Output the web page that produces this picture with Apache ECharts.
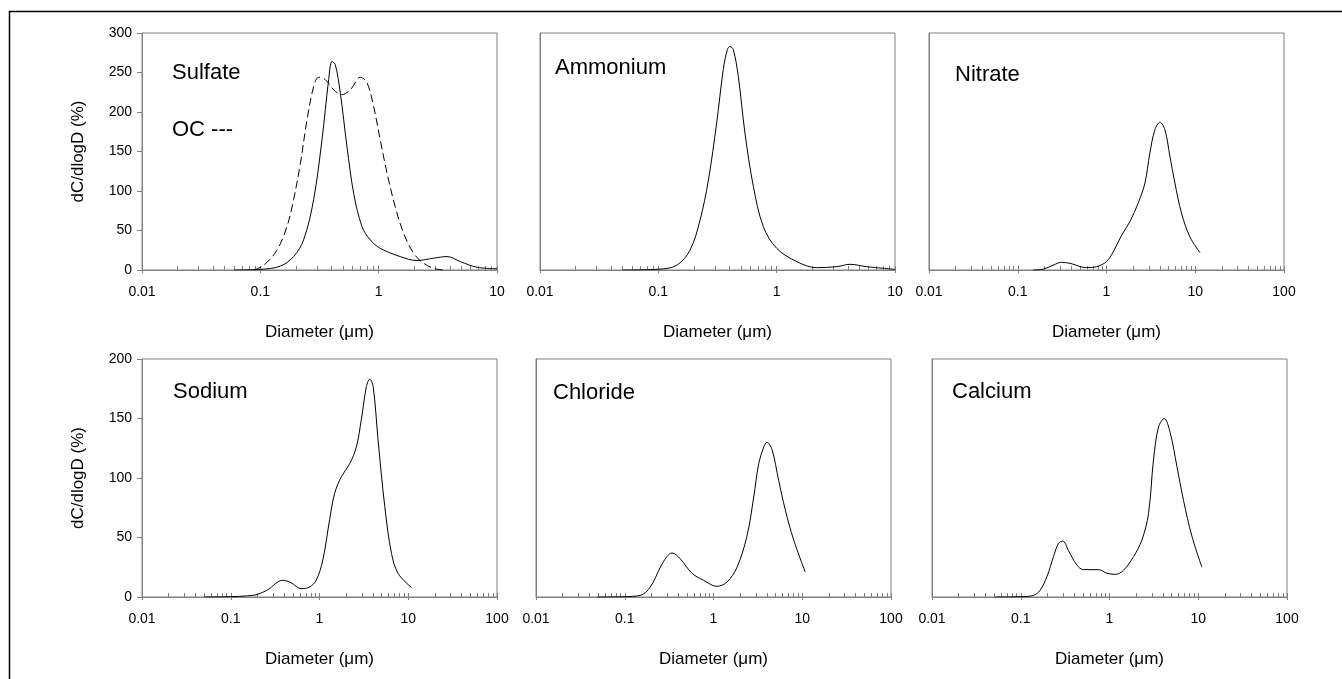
<!DOCTYPE html>
<html>
<head>
<meta charset="utf-8">
<script src="https://cdn.jsdelivr.net/npm/echarts@6/dist/echarts.min.js"></script>
<style>
  html, body { margin: 0; padding: 0; background: #fff; }
  #chart { width: 1342px; height: 679px; }
</style>
</head>
<body>
<div id="chart"></div>
<script>
// size distributions: diameter (um) and dC/dlogD (%)
const sulfateD = [0.06, 0.1, 0.148, 0.191, 0.232, 0.282, 0.332, 0.378, 0.403, 0.43, 0.474, 0.54, 0.615, 0.723, 0.85, 1.03, 1.52, 2.11, 2.92, 3.78, 4.9, 6.78, 10];
const sulfateV = [0, 0.8, 5, 17, 38, 89, 165, 241, 264, 260, 224, 156, 97, 55, 38, 27.5, 17, 12, 15, 17, 10.6, 3.4, 1.7];

const ocD = [0.088, 0.107, 0.138, 0.168, 0.191, 0.218, 0.248, 0.282, 0.311, 0.354, 0.417, 0.49, 0.576, 0.7, 0.797, 0.907, 1.03, 1.18, 1.38, 1.63, 1.98, 2.4, 3.1, 3.78];
const ocV = [0, 6, 25, 55, 89, 135, 190, 232, 244, 241, 228, 222, 228, 244, 237, 207, 165, 122, 80, 46, 21, 8.5, 1, 0];

const ammoniumD = [0.05, 0.1, 0.143, 0.185, 0.225, 0.265, 0.311, 0.354, 0.383, 0.403, 0.43, 0.474, 0.54, 0.635, 0.771, 1.0, 1.48, 2.18, 3.21, 4.17, 5.76, 10];
const ammoniumV = [0, 1, 6, 25, 63, 114, 186, 254, 279, 283, 279, 245, 173, 106, 55, 27.5, 10.6, 3, 4.2, 7.2, 4.2, 0.8];

const nitrateD = [0.149, 0.193, 0.25, 0.311, 0.386, 0.595, 0.771, 1.0, 1.19, 1.48, 1.83, 2.28, 2.71, 3.08, 3.51, 4.0, 4.55, 5.18, 5.9, 7.0, 8.7, 11.3];
const nitrateV = [0, 1, 6, 9.7, 8.5, 3, 4.2, 10.6, 23, 44, 61, 85, 110, 148, 177.5, 187, 177.5, 144, 110, 72, 42, 22];

const sodiumD = [0.05, 0.1, 0.155, 0.2, 0.26, 0.385, 0.478, 0.62, 0.771, 0.917, 1.09, 1.3, 1.48, 1.76, 2.19, 2.6, 2.96, 3.38, 3.68, 4.02, 4.57, 5.44, 6.48, 7.7, 10.9];
const sodiumV = [0, 0.3, 1, 2.2, 6, 14, 12, 7, 8.4, 14, 31, 65, 87, 101, 112, 126, 149, 177, 183, 177, 132, 76, 36.5, 19.7, 7.9];

const chlorideD = [0.049, 0.1, 0.15, 0.194, 0.252, 0.299, 0.341, 0.423, 0.572, 0.775, 1.09, 1.42, 1.84, 2.38, 2.84, 3.23, 3.68, 4.0, 4.56, 5.42, 6.45, 8.0, 10.8];
const chlorideV = [0, 0.3, 1.4, 8.4, 25, 34, 37, 32, 20, 14, 9, 12.6, 25, 51, 84, 112, 126, 130, 124, 98, 73, 48, 21];

const calciumD = [0.051, 0.1, 0.139, 0.165, 0.197, 0.234, 0.266, 0.298, 0.345, 0.428, 0.509, 0.752, 0.933, 1.16, 1.44, 1.87, 2.32, 2.75, 3.13, 3.57, 4.14, 4.83, 5.74, 6.83, 8.49, 11.0];
const calciumV = [0, 0.3, 1.4, 5.6, 17, 34, 45, 47, 39, 27, 23, 23, 20, 19, 22.5, 34, 48, 70, 115, 143, 150, 138, 110, 81, 51, 25];

const panelNames = ['Sulfate', 'Ammonium', 'Nitrate', 'Sodium', 'Chloride', 'Calcium'];
const xMax = [10, 10, 100, 100, 100, 100];
const yMax = [300, 300, 300, 200, 200, 200];
const majorTicks = [0.01, 0.1, 1, 10, 100];

const zip = (d, v) => d.map((x, i) => [x, v[i]]);

// panel boxes in pixels
const boxes = [
  { left: 142, top: 33, width: 355, height: 237 },
  { left: 540, top: 33, width: 355, height: 237 },
  { left: 929, top: 33, width: 355, height: 237 },
  { left: 142, top: 359, width: 355, height: 238 },
  { left: 536, top: 359, width: 355, height: 238 },
  { left: 932, top: 359, width: 355, height: 238 }
];
const titlePos = [
  [172, 62], [555, 57], [955, 64],
  [173, 381], [553, 382], [952, 381]
];

const font = 'Liberation Sans, Arial, sans-serif';
const grey = '#808080';

const grids = [];
const xAxes = [];
const yAxes = [];
boxes.forEach((b, i) => {
  grids.push(Object.assign({ show: true, borderColor: grey, borderWidth: 1, containLabel: false }, b));
  const majors = majorTicks.filter(v => v <= xMax[i]);
  const minors = [];
  majors.forEach(m => {
    if (m >= xMax[i]) return;
    for (let k = 1; k <= 9; k++) minors.push(+(m * k).toPrecision(3));
  });
  minors.push(xMax[i]);
  xAxes.push({
    type: 'log', logBase: 10, gridIndex: i, position: 'bottom',
    min: 0.01, max: xMax[i],
    name: 'Diameter (\u03bcm)', nameLocation: 'middle', nameGap: 54,
    nameTextStyle: { fontFamily: font, fontSize: 17, color: '#000' },
    axisLine: { lineStyle: { color: grey, width: 1 } },
    axisTick: { show: true, inside: false, length: 3, lineStyle: { color: grey }, customValues: majors },
    axisLabel: { fontFamily: font, fontSize: 14, color: '#000', margin: 15, customValues: majors,
      formatter: v => String(+(+v).toPrecision(3)) },
    splitLine: { show: false }
  });
  xAxes.push({
    type: 'log', logBase: 10, gridIndex: i, position: 'bottom',
    min: 0.01, max: xMax[i],
    axisLine: { show: false },
    axisTick: { show: true, inside: true, length: 4, lineStyle: { color: grey }, customValues: minors },
    axisLabel: { show: false },
    splitLine: { show: false }
  });
  const labelled = i === 0 || i === 3;
  yAxes.push({
    type: 'value', gridIndex: i, min: 0, max: yMax[i], interval: 50,
    name: labelled ? 'dC/dlogD (%)' : '', nameLocation: 'middle', nameGap: 55, nameRotate: 90,
    nameTextStyle: { fontFamily: font, fontSize: 17, color: '#000' },
    axisLine: { show: true, lineStyle: { color: grey, width: 1 } },
    axisTick: { show: labelled, length: 5, lineStyle: { color: grey } },
    axisLabel: { show: labelled, fontFamily: font, fontSize: 14, color: '#000', margin: 10 },
    splitLine: { show: false }
  });
});

const solid = (i, d, v) => ({
  type: 'line', xAxisIndex: 2 * i, yAxisIndex: i, data: zip(d, v),
  smooth: 0.35, symbol: 'none', silent: true,
  lineStyle: { color: '#000', width: 1 }
});

const series = [
  solid(0, sulfateD, sulfateV),
  Object.assign(solid(0, ocD, ocV), { lineStyle: { color: '#000', width: 1, type: [8, 4] } }),
  solid(1, ammoniumD, ammoniumV),
  solid(2, nitrateD, nitrateV),
  solid(3, sodiumD, sodiumV),
  solid(4, chlorideD, chlorideV),
  solid(5, calciumD, calciumV)
];

const titles = panelNames.map((n, i) => ({
  text: n, left: titlePos[i][0], top: titlePos[i][1], padding: 0,
  textStyle: { fontFamily: font, fontSize: 22, fontWeight: 'normal', color: '#000' }
}));
titles.push({
  text: 'OC ---', left: 172, top: 119, padding: 0,
  textStyle: { fontFamily: font, fontSize: 22, fontWeight: 'normal', color: '#000' }
});

const chart = echarts.init(document.getElementById('chart'));
chart.setOption({
  animation: false,
  backgroundColor: '#fff',
  title: titles,
  grid: grids,
  xAxis: xAxes,
  yAxis: yAxes,
  series: series,
  graphic: [{
    type: 'rect', silent: true,
    shape: { x: 9.5, y: 11.5, width: 1345, height: 680 },
    style: { fill: 'none', stroke: '#000', lineWidth: 1.5 }
  }]
});
</script>
</body>
</html>
